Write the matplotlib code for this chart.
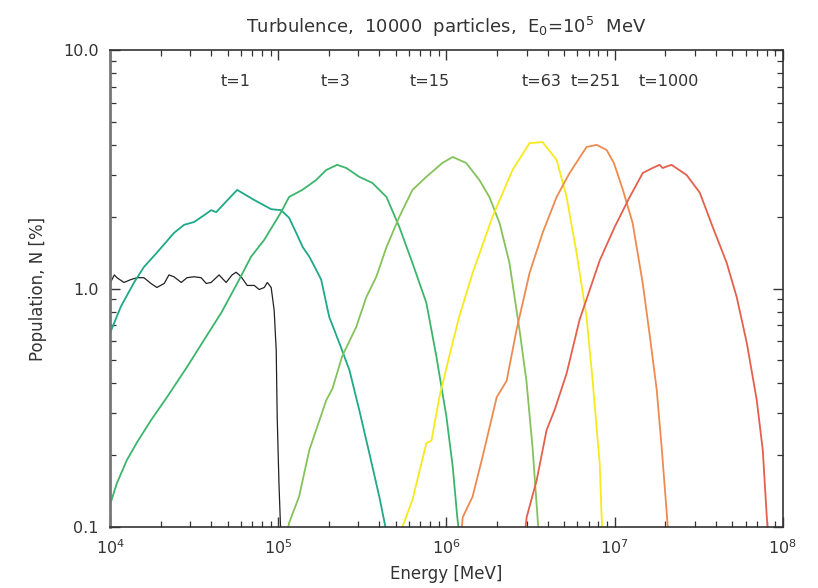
import numpy as np
import matplotlib.pyplot as plt
from matplotlib.ticker import LogLocator, FixedLocator, FixedFormatter, NullFormatter

# spectra: energy [MeV] and population [%] at successive times
e_init = [1.0e4, 1.06e4, 1.10e4, 1.21e4, 1.33e4, 1.45e4, 1.59e4, 1.75e4, 1.90e4, 2.10e4,
          2.24e4, 2.40e4, 2.65e4, 2.87e4, 3.16e4, 3.48e4, 3.73e4, 3.99e4, 4.45e4, 4.90e4,
          5.32e4, 5.62e4, 6.02e4, 6.54e4, 7.20e4, 7.71e4, 8.26e4, 8.61e4, 9.08e4, 9.46e4,
          9.73e4, 9.86e4, 1.01e5, 1.03e5, 1.04e5]
n_init = [1.05, 1.14, 1.11, 1.06, 1.09, 1.11, 1.11, 1.05, 1.01, 1.05,
          1.14, 1.12, 1.06, 1.11, 1.12, 1.11, 1.05, 1.06, 1.14, 1.06,
          1.14, 1.17, 1.12, 1.03, 1.03, 0.99, 1.01, 1.06, 1.01, 0.81,
          0.55, 0.29, 0.153, 0.104, 0.09]

e_t1 = [1.0e4, 1.16e4, 1.39e4, 1.59e4, 1.91e4, 2.40e4, 2.76e4, 3.16e4, 3.63e4, 3.99e4,
        4.28e4, 4.58e4, 5.70e4, 7.20e4, 9.08e4, 1.04e5, 1.16e5, 1.28e5, 1.40e5, 1.53e5,
        1.68e5, 1.80e5, 2.01e5, 2.31e5, 2.65e5, 3.03e5, 3.48e5, 3.99e5, 4.34e5, 4.45e5]
n_t1 = [0.65, 0.84, 1.06, 1.23, 1.42, 1.71, 1.85, 1.90, 2.03, 2.13,
        2.09, 2.20, 2.59, 2.35, 2.15, 2.13, 1.98, 1.71, 1.49, 1.36,
        1.20, 1.09, 0.76, 0.59, 0.455, 0.31, 0.204, 0.134, 0.10, 0.09]

e_t3 = [1.0e4, 1.10e4, 1.26e4, 1.45e4, 1.75e4, 2.18e4, 2.87e4, 3.63e4, 4.58e4, 5.70e4,
        6.90e4, 8.26e4, 1.04e5, 1.16e5, 1.39e5, 1.68e5, 1.93e5, 2.24e5, 2.54e5, 3.03e5,
        3.63e5, 4.40e5, 5.25e5, 6.28e5, 7.60e5, 8.71e5, 1.0e6, 1.09e6, 1.16e6, 1.20e6]
n_t3 = [0.124, 0.153, 0.191, 0.227, 0.28, 0.35, 0.469, 0.61, 0.79, 1.05,
        1.36, 1.60, 2.09, 2.42, 2.59, 2.85, 3.14, 3.30, 3.20, 2.94,
        2.77, 2.42, 1.81, 1.28, 0.87, 0.52, 0.29, 0.179, 0.11, 0.09]

e_t15 = [1.12e5, 1.16e5, 1.33e5, 1.53e5, 1.68e5, 1.93e5, 2.10e5, 2.40e5, 2.91e5, 3.34e5,
         3.83e5, 4.40e5, 5.25e5, 6.28e5, 7.60e5, 9.46e5, 1.09e6, 1.31e6, 1.57e6, 1.80e6,
         2.07e6, 2.37e6, 2.72e6, 2.99e6, 3.25e6, 3.48e6, 3.55e6]
n_t15 = [0.09, 0.104, 0.134, 0.21, 0.255, 0.34, 0.38, 0.52, 0.69, 0.92,
         1.12, 1.49, 2.00, 2.59, 2.94, 3.36, 3.56, 3.36, 2.85, 2.42,
         1.88, 1.28, 0.67, 0.41, 0.216, 0.11, 0.09]

e_t63 = [5.3e5, 5.47e5, 6.28e5, 7.60e5, 8.14e5, 9.08e5, 1.04e6, 1.19e6, 1.43e6, 1.88e6,
         2.47e6, 3.12e6, 3.73e6, 4.52e6, 5.18e6, 5.94e6, 6.81e6, 7.40e6, 8.15e6, 8.37e6,
         8.5e6]
n_t63 = [0.09, 0.10, 0.13, 0.225, 0.23, 0.35, 0.52, 0.76, 1.16, 2.00,
         3.14, 4.07, 4.11, 3.46, 2.42, 1.41, 0.76, 0.41, 0.185, 0.11,
         0.09]

e_t251 = [1.22e6, 1.25e6, 1.43e6, 1.64e6, 1.99e6, 2.28e6, 2.61e6, 3.12e6, 3.73e6, 4.52e6,
          5.40e6, 6.81e6, 7.82e6, 8.96e6, 9.9e6, 1.12e7, 1.28e7, 1.47e7, 1.62e7, 1.78e7,
          1.91e7, 2.04e7, 2.09e7]
n_t251 = [0.09, 0.11, 0.134, 0.197, 0.35, 0.41, 0.67, 1.16, 1.71, 2.42,
          3.05, 3.92, 4.00, 3.81, 3.36, 2.59, 1.88, 1.05, 0.63, 0.375,
          0.21, 0.115, 0.09]

e_t1000 = [2.9e6, 3.0e6, 3.44e6, 3.94e6, 4.40e6, 5.18e6, 6.19e6, 8.15e6, 1.0e7, 1.23e7,
           1.47e7, 1.68e7, 1.85e7, 1.93e7, 2.18e7, 2.68e7, 3.21e7, 3.83e7, 4.64e7, 5.32e7,
           6.11e7, 7.0e7, 7.6e7, 8.03e7, 8.2e7]
n_t1000 = [0.09, 0.11, 0.157, 0.255, 0.31, 0.44, 0.74, 1.31, 1.81, 2.42,
           3.05, 3.20, 3.30, 3.20, 3.30, 2.99, 2.52, 1.81, 1.28, 0.92,
           0.59, 0.34, 0.21, 0.11, 0.09]

time_labels = ['t=1', 't=3', 't=15', 't=63', 't=251', 't=1000']
label_energy = [5.6e4, 2.2e5, 8.0e5, 3.7e6, 7.7e6, 2.1e7]

series = [
    (e_t1, n_t1, '#1ea987'),
    (e_t3, n_t3, '#3cb56c'),
    (e_t15, n_t15, '#85c25a'),
    (e_t63, n_t63, '#f7ea1c'),
    (e_t251, n_t251, '#ee8a50'),
    (e_t1000, n_t1000, '#e4604c'),
]

plt.rcParams['font.family'] = ['DejaVu Sans']

fig = plt.figure(figsize=(8.18, 5.88), dpi=100)
ax = fig.add_axes([0.1345, 0.1037, 0.8225, 0.8113])

ax.plot(e_init, n_init, color='#222222', lw=0.9)
for e, n, c in series:
    ax.plot(e, n, color=c, lw=1.3)

ax.set_xscale('log')
ax.set_yscale('log')
ax.set_xlim(1e4, 1e8)
ax.set_ylim(0.1, 10)

ax.yaxis.set_major_locator(FixedLocator([0.1, 1.0, 10.0]))
ax.yaxis.set_major_formatter(FixedFormatter(['0.1', '1.0', '10.0']))
ax.yaxis.set_minor_locator(LogLocator(base=10, subs=np.arange(2, 10)))
ax.yaxis.set_minor_formatter(NullFormatter())
ax.xaxis.set_major_locator(LogLocator(base=10, numticks=10))
ax.xaxis.set_minor_locator(LogLocator(base=10, subs=np.arange(2, 10), numticks=10))
ax.xaxis.set_minor_formatter(NullFormatter())

ax.tick_params(which='both', direction='in', top=True, right=True, colors='#333333',
               labelsize=11.5, labelcolor='#333333')
ax.tick_params(which='major', length=7, width=1.0, pad=8)
ax.tick_params(which='minor', length=4, width=0.9)
for s in ax.spines.values():
    s.set_linewidth(1.2)
    s.set_color('#333333')
ax.spines['left'].set_linewidth(2.0)
ax.spines['left'].set_color('#777777')

for lab, e in zip(time_labels, label_energy):
    ax.text(e, 7.35, lab, ha='center', va='center', fontsize=11.5, color='#333333')

ax.set_title('Turbulence,  10000  particles,  E$_0$=10$^5$  MeV', fontsize=13,
             color='#333333', pad=12)
ax.set_xlabel('Energy [MeV]', fontsize=12, color='#333333', labelpad=6)
ax.set_ylabel('Population, N [%]', fontsize=12, color='#333333', labelpad=12)

fig.savefig('out.png', dpi=100)
